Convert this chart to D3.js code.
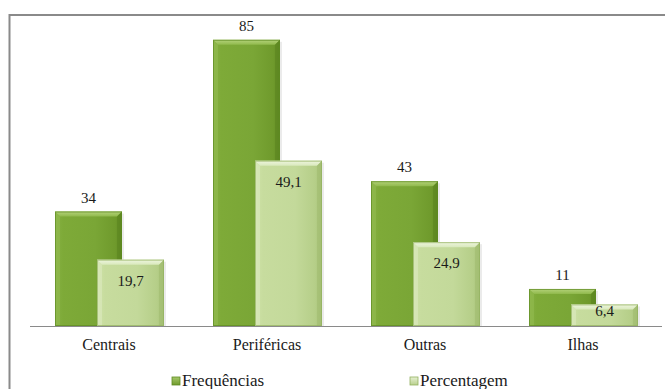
<!DOCTYPE html>
<html>
<head>
<meta charset="utf-8">
<script src="https://cdn.jsdelivr.net/npm/d3@7"></script>
<style>
  html, body { margin: 0; padding: 0; background: #fff; }
  svg { display: block; }
  svg text { font-family: 'Liberation Serif', 'Times New Roman', Times, 'DejaVu Serif', 'Noto Serif', serif !important; }
</style>
</head>
<body>
<svg id="chart" width="665" height="389"></svg>
<script>
const categories = ["Centrais", "Periféricas", "Outras", "Ilhas"];
const seriesNames = ["Frequências", "Percentagem"];
const frequencias = [34, 85, 43, 11];
const percentagem = [19.7, 49.1, 24.9, 6.4];
const frequenciasLabels = ["34", "85", "43", "11"];
const percentagemLabels = ["19,7", "49,1", "24,9", "6,4"];

const FONT = "'Liberation Serif', 'Times New Roman', Times, serif";
const svg = d3.select("#chart");
const defs = svg.append("defs");

function hGrad(id, stops) {
  const g = defs.append("linearGradient").attr("id", id).attr("x1", "0").attr("x2", "1").attr("y1", "0").attr("y2", "0");
  stops.forEach(s => g.append("stop").attr("offset", s[0]).attr("stop-color", s[1]));
}
function vGrad(id, stops) {
  const g = defs.append("linearGradient").attr("id", id).attr("x1", "0").attr("x2", "0").attr("y1", "0").attr("y2", "1");
  stops.forEach(s => g.append("stop").attr("offset", s[0]).attr("stop-color", s[1]));
}
hGrad("darkBody", [[0, "#86B143"], [0.12, "#7EAA38"], [0.6, "#7AA636"], [0.9, "#6F9A2C"], [1, "#5F8A22"]]);
hGrad("lightBody", [[0, "#CFE2A8"], [0.12, "#C7DC9E"], [0.6, "#C3D99A"], [0.9, "#B5CE88"], [1, "#A3BF73"]]);
vGrad("darkTop", [[0, "#B4D27A"], [1, "#90B94C"]]);
vGrad("lightTop", [[0, "#EEF5DF"], [1, "#D9E9BC"]]);
vGrad("darkMark", [[0, "#A6C86A"], [1, "#6F9A2C"]]);
vGrad("lightMark", [[0, "#E6F0D2"], [1, "#B9D08E"]]);

svg.append("rect").attr("x", 9.5).attr("y", 15).attr("width", 700).attr("height", 400)
  .attr("fill", "none").attr("stroke", "#8a8a8a").attr("stroke-width", 2);

const plotLeft = 30, plotRight = 662, baseY = 326, topY = 23;
const x = d3.scaleBand().domain(categories).range([plotLeft, plotRight]).padding(0);
const y = d3.scaleLinear().domain([0, 90]).range([baseY, topY]);

const bw = x.bandwidth();
const barW = bw * 67 / 158;
const offDark = bw * 25 / 158;
const offLight = bw * 67 / 158;

const series = [
  { values: frequencias, off: offDark, body: "url(#darkBody)", top: "url(#darkTop)", edge: "#5E8A22", left: "#92BA50", bottom: "#5C8620" },
  { values: percentagem, off: offLight, body: "url(#lightBody)", top: "url(#lightTop)", edge: "#93B160", left: "#DCEAC0", bottom: "#A2BD72" }
];

function drawBar(g, x0, y0, w, h, s) {
  const b = Math.min(5, h / 3);
  g.append("rect").attr("x", x0 + 2).attr("y", y0 + 2).attr("width", w).attr("height", h - 2)
    .attr("fill", "#000").attr("opacity", 0.08);
  g.append("rect").attr("x", x0).attr("y", y0).attr("width", w).attr("height", h).attr("fill", s.body);
  g.append("polygon").attr("points", [[x0, y0], [x0 + w, y0], [x0 + w - b, y0 + b], [x0 + b, y0 + b]].map(p => p.join(",")).join(" "))
    .attr("fill", s.top);
  g.append("polygon").attr("points", [[x0, y0], [x0 + b, y0 + b], [x0 + b, y0 + h], [x0, y0 + h]].map(p => p.join(",")).join(" "))
    .attr("fill", s.left).attr("opacity", 0.6);
  g.append("polygon").attr("points", [[x0 + w, y0], [x0 + w, y0 + h], [x0 + w - b, y0 + h], [x0 + w - b, y0 + b]].map(p => p.join(",")).join(" "))
    .attr("fill", s.bottom).attr("opacity", 0.6);
  g.append("rect").attr("x", x0 + 0.5).attr("y", y0 + 0.5).attr("width", w - 1).attr("height", h - 1)
    .attr("fill", "none").attr("stroke", s.edge).attr("stroke-width", 1).attr("opacity", 0.7);
}

series.forEach((s, si) => {
  const g = svg.append("g").attr("class", "series-" + si);
  categories.forEach((c, i) => {
    const x0 = x(c) + s.off;
    const y0 = y(s.values[i]);
    drawBar(g, x0, y0, barW, baseY - y0, s);
  });
});

svg.append("line").attr("x1", plotLeft).attr("x2", plotRight).attr("y1", baseY + 0.5).attr("y2", baseY + 0.5)
  .attr("stroke", "#8a8a8a").attr("stroke-width", 1);

categories.forEach((c, i) => {
  const yd = y(frequencias[i]);
  svg.append("text").attr("x", x(c) + offDark + barW / 2).attr("y", yd - 9)
    .attr("text-anchor", "middle").style("font-size", "15px").attr("fill", "#1a1a1a")
    .text(frequenciasLabels[i]);
  const yl = y(percentagem[i]);
  const h = baseY - yl;
  const cy = Math.min(yl + 21, yl + h / 2 - 4);
  svg.append("text").attr("x", x(c) + offLight + barW / 2).attr("y", cy).attr("dy", "0.35em")
    .attr("text-anchor", "middle").style("font-size", "15px").attr("fill", "#1a1a1a")
    .text(percentagemLabels[i]);
});

const xAxis = d3.axisBottom(x).tickSize(0).tickPadding(0);
const ax = svg.append("g").attr("transform", `translate(0,${baseY})`).call(xAxis);
ax.select(".domain").remove();
ax.selectAll("text").attr("y", 24).attr("dy", 0).attr("fill", "#1a1a1a").style("font-size", "16px");

const legendX = [172, 410];
const marks = ["url(#darkMark)", "url(#lightMark)"];
const markEdge = ["#5E8A22", "#93B160"];
seriesNames.forEach((n, i) => {
  svg.append("rect").attr("x", legendX[i]).attr("y", 377).attr("width", 8).attr("height", 8)
    .attr("fill", marks[i]).attr("stroke", markEdge[i]).attr("stroke-width", 0.8);
  svg.append("text").attr("x", legendX[i] + 10).attr("y", 386).style("font-size", "17px")
    .attr("fill", "#1a1a1a").text(n);
});
</script>
</body>
</html>
